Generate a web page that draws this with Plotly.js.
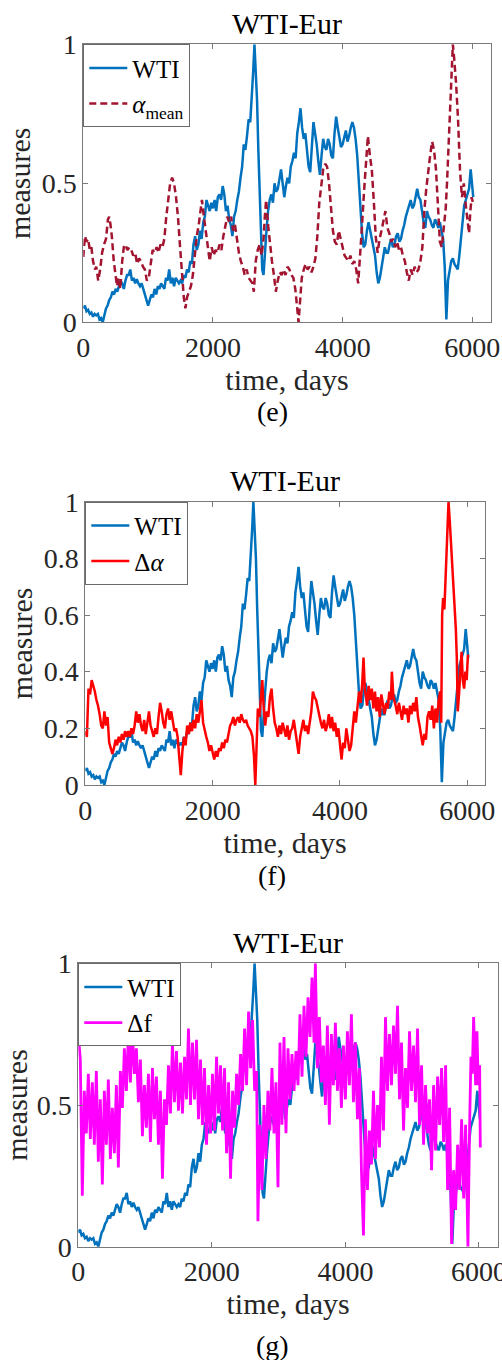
<!DOCTYPE html>
<html><head><meta charset="utf-8">
<script src="https://cdn.plot.ly/plotly-3.0.1.min.js"></script>
<style>html,body{margin:0;padding:0;background:#fff}#chart{width:502px;height:1360px}</style>
</head><body><div id="chart"></div>
<script>
// ---------- data ----------
const xTicks = [0, 2000, 4000, 6000];
const xTickText = ['0', '2000', '4000', '6000'];
const yTicksHalf = [0, 0.5, 1];
const yTicksHalfText = ['0', '0.5', '1'];
const yTicksFifth = [0, 0.2, 0.4, 0.6, 0.8, 1];
const yTicksFifthText = ['0', '0.2', '0.4', '0.6', '0.8', '1'];

const wtiDays = [0,25,50,75,100,125,150,175,200,225,250,275,300,325,350,375,400,425,450,475,500,525,550,575,600,625,650,675,700,725,750,775,
 800,825,850,875,900,925,950,975,1000,1025,1050,1075,1100,1125,1150,1175,1200,1225,1250,1275,1300,1325,1350,1375,1400,1425,1450,1475,1500,1525,1550,1575,
 1600,1625,1650,1675,1700,1725,1750,1775,1800,1825,1850,1875,1900,1925,1950,1975,2000,2025,2050,2075,2100,2125,2150,2175,2200,2225,2250,2275,2300,2325,2350,2375,
 2400,2425,2450,2475,2500,2525,2550,2575,2600,2620,2640,2660,2680,2700,2720,2740,2760,2780,2800,2825,2850,2875,2900,2925,2950,2975,
 3000,3025,3050,3075,3100,3125,3150,3175,3200,3225,3250,3275,3300,3325,3350,3375,3400,3425,3450,3475,3500,3525,3550,3575,
 3600,3625,3650,3675,3700,3725,3750,3775,3800,3825,3850,3875,3900,3925,3950,3975,4000,4025,4050,4075,4100,4125,4150,4175,
 4200,4225,4250,4275,4300,4325,4350,4375,4400,4425,4450,4475,4500,4525,4550,4575,4600,4625,4650,4675,4700,4725,4750,4775,
 4800,4825,4850,4875,4900,4925,4950,4975,5000,5025,5050,5075,5100,5125,5150,5175,5200,5225,5250,5275,5300,5325,5350,5375,
 5400,5425,5450,5475,5500,5525,5550,5575,5600,5625,5650,5675,5700,5725,5750,5775,5800,5825,5850,5875,5900,5925,5950,5975,5990,6000,6015];
const wtiVals = [0.05,0.06,0.04,0.045,0.03,0.035,0.02,0.03,0.025,0.03,0.01,0.015,0.0,0.03,0.05,0.06,0.08,0.09,0.11,0.10,0.12,0.11,0.13,0.15,0.14,0.12,0.15,0.17,0.17,0.19,0.15,0.16,
 0.14,0.155,0.14,0.13,0.14,0.12,0.10,0.08,0.06,0.08,0.10,0.09,0.12,0.10,0.13,0.12,0.14,0.13,0.12,0.16,0.15,0.19,0.14,0.16,0.13,0.16,0.15,0.14,0.15,0.14,0.17,0.16,
 0.19,0.18,0.22,0.21,0.28,0.31,0.26,0.28,0.33,0.30,0.36,0.38,0.44,0.42,0.40,0.43,0.41,0.44,0.40,0.45,0.46,0.44,0.49,0.46,0.40,0.42,0.37,0.35,0.31,0.38,0.40,0.44,
 0.47,0.52,0.56,0.64,0.62,0.67,0.73,0.72,0.80,0.90,1.0,0.90,0.80,0.62,0.45,0.30,0.19,0.17,0.26,0.33,0.40,0.44,0.46,0.43,0.50,0.47,
 0.48,0.52,0.55,0.50,0.45,0.49,0.52,0.50,0.56,0.58,0.61,0.59,0.68,0.72,0.77,0.70,0.66,0.68,0.62,0.56,0.54,0.65,0.72,0.68,
 0.64,0.58,0.53,0.60,0.66,0.63,0.62,0.66,0.64,0.60,0.59,0.68,0.74,0.70,0.66,0.63,0.64,0.67,0.69,0.65,0.67,0.70,0.72,0.70,
 0.66,0.60,0.50,0.40,0.32,0.27,0.28,0.33,0.36,0.33,0.30,0.26,0.24,0.18,0.14,0.16,0.20,0.24,0.27,0.25,0.25,0.28,0.30,0.27,
 0.28,0.31,0.32,0.29,0.30,0.33,0.35,0.38,0.40,0.42,0.44,0.41,0.42,0.45,0.48,0.45,0.44,0.40,0.36,0.34,0.40,0.38,0.37,0.35,
 0.34,0.37,0.36,0.34,0.36,0.33,0.30,0.20,0.01,0.15,0.19,0.22,0.23,0.21,0.20,0.19,0.24,0.31,0.36,0.42,0.44,0.46,0.48,0.55,0.52,0.50,0.45];

const alphaMeanDays = [0,25,50,75,100,125,150,180,200,230,260,290,320,350,380,400,420,440,470,500,520,545,570,600,625,650,680,710,740,770,
 800,830,860,890,920,950,980,1010,1040,1070,1100,1130,1160,1190,1220,1250,1280,1310,1340,1370,1400,1430,1460,1490,1520,1550,1575,1600,1630,1660,
 1690,1720,1750,1780,1810,1830,1860,1890,1920,1950,1980,2010,2040,2070,2100,2130,2160,2190,2220,2250,2280,2310,2340,2370,2400,2430,2460,2490,2520,2550,
 2580,2610,2630,2660,2690,2720,2750,2780,2800,2820,2850,2880,2910,2940,2970,3000,3030,3060,3090,3120,3150,3180,3210,3240,3270,3300,3320,3345,3370,3400,
 3430,3460,3490,3520,3550,3580,3610,3640,3670,3700,3730,3760,3790,3820,3850,3880,3910,3940,3970,4000,4030,4060,4090,4120,4150,4180,4210,4240,4270,4300,
 4330,4360,4390,4420,4450,4480,4510,4540,4570,4600,4630,4660,4690,4720,4750,4780,4810,4840,4870,4900,4930,4960,4990,5020,5050,5080,5110,5140,5170,5200,
 5230,5260,5290,5320,5350,5380,5410,5440,5470,5500,5530,5560,5590,5610,5640,5670,5700,5720,5750,5780,5810,5840,5870,5900,5930,5950,5970,5990,6010];
const alphaMeanVals = [0.235,0.31,0.29,0.30,0.26,0.27,0.22,0.19,0.20,0.15,0.19,0.25,0.28,0.30,0.37,0.38,0.35,0.31,0.22,0.17,0.13,0.16,0.12,0.22,0.27,0.28,0.26,0.27,0.26,0.24,
 0.25,0.21,0.23,0.22,0.20,0.19,0.15,0.16,0.21,0.26,0.25,0.27,0.25,0.28,0.27,0.30,0.38,0.44,0.50,0.52,0.50,0.45,0.38,0.28,0.17,0.09,0.05,0.09,0.11,0.13,
 0.17,0.25,0.31,0.35,0.41,0.44,0.38,0.32,0.28,0.22,0.27,0.24,0.26,0.25,0.28,0.26,0.31,0.34,0.38,0.36,0.38,0.33,0.35,0.30,0.25,0.22,0.20,0.17,0.19,0.16,
 0.15,0.14,0.11,0.22,0.26,0.28,0.24,0.30,0.38,0.44,0.35,0.27,0.22,0.17,0.11,0.15,0.18,0.17,0.19,0.17,0.20,0.19,0.17,0.16,0.12,0.05,0.0,0.08,0.16,0.19,
 0.21,0.19,0.20,0.18,0.20,0.23,0.31,0.43,0.50,0.55,0.57,0.56,0.50,0.40,0.33,0.29,0.28,0.33,0.30,0.26,0.24,0.23,0.22,0.24,0.21,0.22,0.19,0.14,0.23,0.35,
 0.47,0.58,0.67,0.60,0.55,0.44,0.31,0.25,0.30,0.33,0.37,0.40,0.34,0.32,0.29,0.30,0.27,0.29,0.26,0.27,0.24,0.22,0.18,0.15,0.19,0.17,0.20,0.18,0.19,0.22,
 0.27,0.40,0.48,0.55,0.60,0.65,0.62,0.55,0.42,0.29,0.27,0.35,0.41,0.50,0.68,0.88,1.0,0.95,0.86,0.73,0.55,0.45,0.50,0.42,0.35,0.32,0.40,0.45,0.43];

const dAlphaDays = [0,25,50,75,100,125,150,175,200,225,250,275,300,325,350,375,400,425,450,475,500,525,550,575,600,625,650,675,700,725,750,775,
 800,825,850,875,900,925,950,975,1000,1025,1050,1075,1100,1125,1150,1175,1200,1225,1250,1275,1300,1325,1350,1375,1400,1425,1450,1475,1500,1525,1550,1575,
 1600,1625,1650,1675,1700,1725,1750,1775,1800,1825,1850,1875,1900,1925,1950,1975,2000,2025,2050,2075,2100,2125,2150,2175,2200,2225,2250,2275,2300,2325,2350,2375,
 2400,2425,2450,2475,2500,2525,2550,2575,2600,2625,2650,2670,2690,2710,2735,2760,2780,2800,2825,2850,2875,2900,2925,2950,2975,3000,3025,3050,3075,3100,3125,3150,3175,
 3200,3225,3250,3275,3300,3325,3350,3375,3400,3425,3450,3475,3500,3525,3550,3575,3600,3625,3650,3675,3700,3725,3750,3775,3800,3825,3850,3875,3900,3925,3950,3975,
 4000,4025,4050,4075,4100,4125,4150,4175,4200,4225,4250,4275,4300,4325,4350,4370,4390,4410,4425,4450,4475,4500,4525,4550,4575,4600,4625,4650,4675,4700,4725,4750,4775,
 4800,4815,4840,4875,4900,4925,4950,4975,5000,5025,5050,5075,5100,5125,5150,5175,5200,5225,5250,5275,5300,5325,5350,5375,5400,5425,5450,5475,5500,5525,5550,5575,5590,
 5605,5620,5640,5660,5680,5705,5725,5750,5775,5800,5820,5835,5850,5870,5890,5910,5930,5950,5970,5990,6010];
const dAlphaVals = [0.19,0.17,0.34,0.32,0.37,0.35,0.33,0.30,0.28,0.25,0.21,0.20,0.26,0.21,0.24,0.15,0.13,0.11,0.13,0.16,0.14,0.17,0.15,0.18,0.16,0.19,0.17,0.19,0.17,0.20,0.18,0.21,
 0.26,0.22,0.25,0.21,0.19,0.23,0.18,0.22,0.26,0.21,0.19,0.17,0.20,0.18,0.24,0.29,0.26,0.22,0.20,0.25,0.27,0.23,0.26,0.22,0.19,0.20,0.17,0.10,0.035,0.12,0.17,0.14,
 0.21,0.18,0.22,0.19,0.23,0.20,0.25,0.22,0.27,0.30,0.22,0.19,0.17,0.15,0.12,0.14,0.11,0.09,0.12,0.10,0.13,0.12,0.15,0.13,0.16,0.15,0.18,0.21,0.22,0.24,0.21,0.23,
 0.24,0.22,0.25,0.23,0.22,0.23,0.21,0.20,0.19,0.17,0.10,0.0,0.15,0.27,0.24,0.33,0.37,0.28,0.21,0.26,0.24,0.31,0.34,0.27,0.22,0.20,0.17,0.21,0.18,0.22,0.19,0.17,0.21,
 0.16,0.19,0.20,0.23,0.19,0.15,0.11,0.17,0.20,0.23,0.19,0.21,0.18,0.22,0.26,0.33,0.31,0.30,0.27,0.24,0.22,0.20,0.23,0.19,0.21,0.25,0.20,0.24,0.19,0.22,0.17,0.20,
 0.14,0.09,0.15,0.13,0.20,0.16,0.12,0.14,0.20,0.26,0.22,0.27,0.33,0.29,0.36,0.45,0.34,0.31,0.28,0.35,0.30,0.34,0.27,0.33,0.26,0.31,0.24,0.32,0.29,0.25,0.29,0.27,0.33,
 0.30,0.40,0.31,0.28,0.25,0.29,0.26,0.23,0.28,0.25,0.27,0.22,0.28,0.25,0.29,0.26,0.31,0.24,0.21,0.17,0.14,0.18,0.16,0.24,0.26,0.23,0.28,0.20,0.27,0.22,0.30,0.33,0.22,
 0.60,0.66,0.62,0.72,0.85,1.0,0.93,0.84,0.75,0.66,0.55,0.45,0.26,0.32,0.38,0.47,0.37,0.34,0.40,0.37,0.46];

const dfDays = [0,30,60,90,120,150,180,210,240,270,300,330,360,390,420,450,480,510,540,570,600,630,660,690,720,750,780,810,840,870,900,930,960,990,
 1020,1050,1080,1110,1140,1170,1200,1230,1260,1290,1320,1350,1380,1410,1440,1470,1500,1530,1560,1590,1620,1650,1680,1710,1740,1770,1800,1830,1860,1890,1920,1950,1980,
 2010,2040,2070,2100,2130,2160,2190,2220,2250,2280,2310,2340,2370,2400,2430,2460,2490,2520,2550,2580,2610,2640,2670,2690,2720,2750,2780,2810,2840,2870,2900,2930,2960,2990,
 3020,3050,3080,3110,3140,3170,3200,3230,3260,3290,3320,3350,3380,3410,3440,3470,3500,3530,3550,3580,3610,3640,3670,3700,3730,3760,3790,3820,3850,3880,3910,3940,3970,
 4000,4030,4060,4090,4120,4150,4180,4210,4240,4270,4300,4330,4360,4390,4420,4450,4480,4510,4540,4570,4600,4630,4660,4690,4720,4750,4780,4810,4840,4870,4900,4930,4960,4990,
 5020,5050,5080,5110,5140,5170,5200,5230,5260,5290,5320,5350,5380,5410,5440,5470,5500,5530,5560,5590,5620,5650,5680,5710,5740,5770,5800,5835,5860,5880,5900,5920,5950,5970,5990,6010,6020];
const dfVals = [0.75,0.66,0.18,0.55,0.40,0.61,0.38,0.58,0.36,0.62,0.30,0.52,0.22,0.55,0.36,0.59,0.31,0.49,0.33,0.57,0.28,0.62,0.49,0.70,0.55,0.75,0.58,0.76,0.61,0.70,0.51,0.66,0.39,0.57,
 0.42,0.61,0.37,0.63,0.45,0.60,0.36,0.55,0.24,0.52,0.43,0.64,0.47,0.72,0.51,0.69,0.48,0.65,0.47,0.67,0.52,0.77,0.50,0.72,0.52,0.73,0.45,0.66,0.43,0.63,0.36,0.57,0.40,
 0.61,0.41,0.67,0.47,0.64,0.41,0.63,0.33,0.58,0.24,0.55,0.42,0.61,0.50,0.68,0.55,0.77,0.57,0.83,0.63,0.80,0.55,0.62,0.09,0.43,0.20,0.50,0.31,0.55,0.41,0.63,0.40,0.58,0.21,
 0.72,0.43,0.74,0.40,0.70,0.52,0.68,0.55,0.69,0.57,0.82,0.60,0.85,0.67,0.88,0.74,0.95,0.72,1.0,0.63,0.81,0.58,0.71,0.50,0.78,0.43,0.75,0.57,0.79,0.55,0.70,0.49,0.71,
 0.52,0.76,0.57,0.82,0.51,0.72,0.45,0.63,0.27,0.04,0.45,0.20,0.41,0.29,0.55,0.31,0.50,0.35,0.67,0.41,0.81,0.55,0.75,0.57,0.78,0.61,0.85,0.52,0.72,0.41,0.63,0.49,0.76,0.55,
 0.71,0.51,0.77,0.43,0.64,0.36,0.57,0.40,0.52,0.27,0.57,0.34,0.60,0.43,0.63,0.37,0.64,0.20,0.49,0.01,0.27,0.13,0.36,0.20,0.45,0.17,0.43,0.0,0.43,0.67,0.61,0.81,0.57,0.76,0.57,0.64,0.35];

const panelTitle = 'WTI-Eur';
const panelTags = ['(e)', '(f)', '(g)'];
const seriesNames = ['WTI', '<i>α</i><sub>mean</sub>', 'Δ<i>α</i>', 'Δf'];

// ---------- styling / layout ----------
const FONT = 'Liberation Serif';
const W = 502, H = 1360;
const WTI_COLOR = '#0072BD';
// panel boxes in pixels: [left, right, top, bottom]
const boxes = [[83.3, 490.7, 44.3, 322.3], [85.3, 485, 501.7, 785], [78.3, 498, 963.3, 1246.7]];
const xRanges = [[0, 6284], [0, 6278], [0, 6285]];
const dom = b => ({x: [b[0] / W, b[1] / W], y: [1 - b[3] / H, 1 - b[2] / H]});

const traces = [];
const legendNames = ['legend', 'legend2', 'legend3'];
const axSuffix = ['', '2', '3'];
const second = [
  {x: alphaMeanDays, y: alphaMeanVals, name: seriesNames[1], line: {color: '#A2142F', width: 2.5, dash: '7px,4px'}},
  {x: dAlphaDays, y: dAlphaVals, name: seriesNames[2], line: {color: '#FF0000', width: 2.5}},
  {x: dfDays, y: dfVals, name: seriesNames[3], line: {color: '#FF00FF', width: 2.8}}
];
for (let i = 0; i < 3; i++) {
  traces.push({type: 'scatter', mode: 'lines', x: wtiDays, y: wtiVals, name: seriesNames[0],
    xaxis: 'x' + axSuffix[i], yaxis: 'y' + axSuffix[i], legend: legendNames[i],
    line: {color: WTI_COLOR, width: 2.5}});
  traces.push(Object.assign({type: 'scatter', mode: 'lines', xaxis: 'x' + axSuffix[i], yaxis: 'y' + axSuffix[i],
    legend: legendNames[i]}, second[i]));
}

const layout = {
  width: W, height: H, margin: {l: 0, r: 0, t: 0, b: 0},
  paper_bgcolor: '#fff', plot_bgcolor: '#fff', showlegend: true,
  font: {family: FONT, color: '#000'},
  annotations: []
};
const axisColor = '#7a7a7a';
const yTickSets = [[yTicksHalf, yTicksHalfText], [yTicksFifth, yTicksFifthText], [yTicksHalf, yTicksHalfText]];
for (let i = 0; i < 3; i++) {
  const d = dom(boxes[i]);
  const common = {showline: true, linecolor: axisColor, linewidth: 1, mirror: 'ticks', ticks: 'inside',
    ticklen: 5, tickcolor: axisColor, showgrid: false, zeroline: false,
    tickfont: {family: FONT, size: 28, color: '#262626'}};
  layout['xaxis' + axSuffix[i]] = Object.assign({}, common, {
    domain: d.x, range: xRanges[i], anchor: 'y' + axSuffix[i],
    tickvals: xTicks, ticktext: xTickText, ticklabeloverflow: 'allow',
    title: {text: 'time, days', font: {family: FONT, size: 30, color: '#262626'}, standoff: 2}
  });
  layout['yaxis' + axSuffix[i]] = Object.assign({}, common, {
    domain: d.y, range: [0, 1], anchor: 'x' + axSuffix[i],
    tickvals: yTickSets[i][0], ticktext: yTickSets[i][1],
    title: {text: 'measures', font: {family: FONT, size: 30, color: '#262626'}, standoff: 2}
  });
  layout[legendNames[i]] = {x: d.x[0], y: d.y[1], xanchor: 'left', yanchor: 'top',
    bgcolor: '#fff', bordercolor: '#6a6a6a', borderwidth: 1,
    font: {family: FONT, size: 25, color: '#000'}, tracegroupgap: 0, itemwidth: 38};
  const cx = (boxes[i][0] + boxes[i][1]) / 2 / W;
  layout.annotations.push({text: panelTitle, xref: 'paper', yref: 'paper', x: cx,
    y: 1 - (boxes[i][2] - 21) / H, xanchor: 'center', yanchor: 'middle', showarrow: false,
    font: {family: FONT, size: 30, color: '#000'}});
}
const tagY = [411, 875, 1345];
for (let i = 0; i < 3; i++) {
  layout.annotations.push({text: panelTags[i], xref: 'paper', yref: 'paper', x: 272 / W,
    y: 1 - tagY[i] / H, xanchor: 'center', yanchor: 'middle', showarrow: false,
    font: {family: FONT, size: 28, color: '#000'}});
}
Plotly.newPlot('chart', traces, layout, {displayModeBar: false, staticPlot: true});
</script>
</body></html>
